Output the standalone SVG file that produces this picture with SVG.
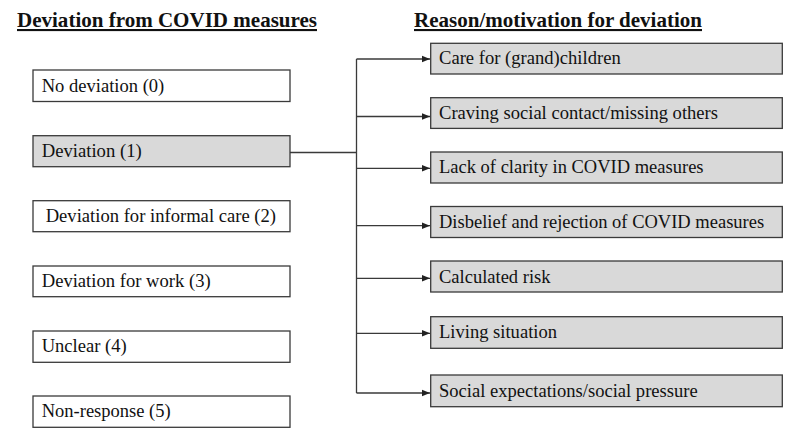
<svg xmlns="http://www.w3.org/2000/svg" width="800" height="441" viewBox="0 0 800 441">
<style>
.bg{fill:#ffffff}
.box{fill:#ffffff;stroke:#3a3a3a;stroke-width:1.3}
.gbox{fill:#d9d9d9;stroke:#3a3a3a;stroke-width:1.3}
.t{font-family:"Liberation Serif","Times New Roman",serif;font-size:18.5px;fill:#111}
.h{font-family:"Liberation Serif","Times New Roman",serif;font-size:21px;font-weight:bold;fill:#111;text-decoration:underline}
.c{fill:none;stroke:#3a3a3a;stroke-width:1.3}
</style>
<defs>
<marker id="ah" viewBox="0 0 10 10" refX="10" refY="5" markerWidth="8" markerHeight="8" markerUnits="userSpaceOnUse" orient="auto">
<path d="M0,1 L10,5 L0,9 Z" fill="#222"/>
</marker>
</defs>
<rect class="bg" x="0" y="0" width="800" height="441"/>
<text class="h" x="17" y="27" textLength="300" lengthAdjust="spacingAndGlyphs">Deviation from COVID measures</text>
<text class="h" x="414" y="27" textLength="288" lengthAdjust="spacingAndGlyphs">Reason/motivation for deviation</text>

<g id="connectors">
<path class="c" d="M290,152.5 H356.5"/>
<path class="c" d="M356.5,59 V393"/>
<path class="c" marker-end="url(#ah)" d="M356.5,59 H430"/>
<path class="c" marker-end="url(#ah)" d="M356.5,116.5 H430"/>
<path class="c" marker-end="url(#ah)" d="M356.5,168.3 H430"/>
<path class="c" marker-end="url(#ah)" d="M356.5,225.7 H430"/>
<path class="c" marker-end="url(#ah)" d="M356.5,278.3 H430"/>
<path class="c" marker-end="url(#ah)" d="M356.5,333.3 H430"/>
<path class="c" marker-end="url(#ah)" d="M356.5,393 H430"/>
</g>

<g id="n0"><rect class="box" x="33" y="70" width="257" height="31.5"/><text class="t" x="41.7" y="91.7" textLength="122.6" lengthAdjust="spacingAndGlyphs">No deviation (0)</text></g>
<g id="n1"><rect class="gbox" x="33" y="135.7" width="257" height="31"/><text class="t" x="41.7" y="157.3" textLength="100" lengthAdjust="spacingAndGlyphs">Deviation (1)</text></g>
<g id="n2"><rect class="box" x="33" y="200.7" width="257" height="31"/><text class="t" x="45.7" y="222.3" textLength="230.3" lengthAdjust="spacingAndGlyphs">Deviation for informal care (2)</text></g>
<g id="n3"><rect class="box" x="33" y="266" width="257" height="30.7"/><text class="t" x="41.7" y="287.3" textLength="169" lengthAdjust="spacingAndGlyphs">Deviation for work (3)</text></g>
<g id="n4"><rect class="box" x="33" y="331" width="257" height="31.3"/><text class="t" x="41.7" y="352.3" textLength="85" lengthAdjust="spacingAndGlyphs">Unclear (4)</text></g>
<g id="n5"><rect class="box" x="33" y="396" width="257" height="31.3"/><text class="t" x="41.7" y="417.3" textLength="129" lengthAdjust="spacingAndGlyphs">Non-response (5)</text></g>

<g id="r1"><rect class="gbox" x="430.7" y="43.3" width="351.6" height="30.7"/><text class="t" x="439" y="64.3" textLength="181.7" lengthAdjust="spacingAndGlyphs">Care for (grand)children</text></g>
<g id="r2"><rect class="gbox" x="430.7" y="97.7" width="351.6" height="30.7"/><text class="t" x="439" y="119" textLength="279" lengthAdjust="spacingAndGlyphs">Craving social contact/missing others</text></g>
<g id="r3"><rect class="gbox" x="430.7" y="152" width="351.6" height="31"/><text class="t" x="439" y="173.3">Lack of clarity in COVID measures</text></g>
<g id="r4"><rect class="gbox" x="430.7" y="206.5" width="351.6" height="31"/><text class="t" x="439" y="228">Disbelief and rejection of COVID measures</text></g>
<g id="r5"><rect class="gbox" x="430.7" y="261" width="351.6" height="31"/><text class="t" x="439" y="282.5">Calculated risk</text></g>
<g id="r6"><rect class="gbox" x="430.7" y="316.7" width="351.6" height="31.6"/><text class="t" x="439" y="338.3" textLength="118" lengthAdjust="spacingAndGlyphs">Living situation</text></g>
<g id="r7"><rect class="gbox" x="430.7" y="375" width="351.6" height="31.7"/><text class="t" x="439" y="396.7" textLength="258.7" lengthAdjust="spacingAndGlyphs">Social expectations/social pressure</text></g>
</svg>
